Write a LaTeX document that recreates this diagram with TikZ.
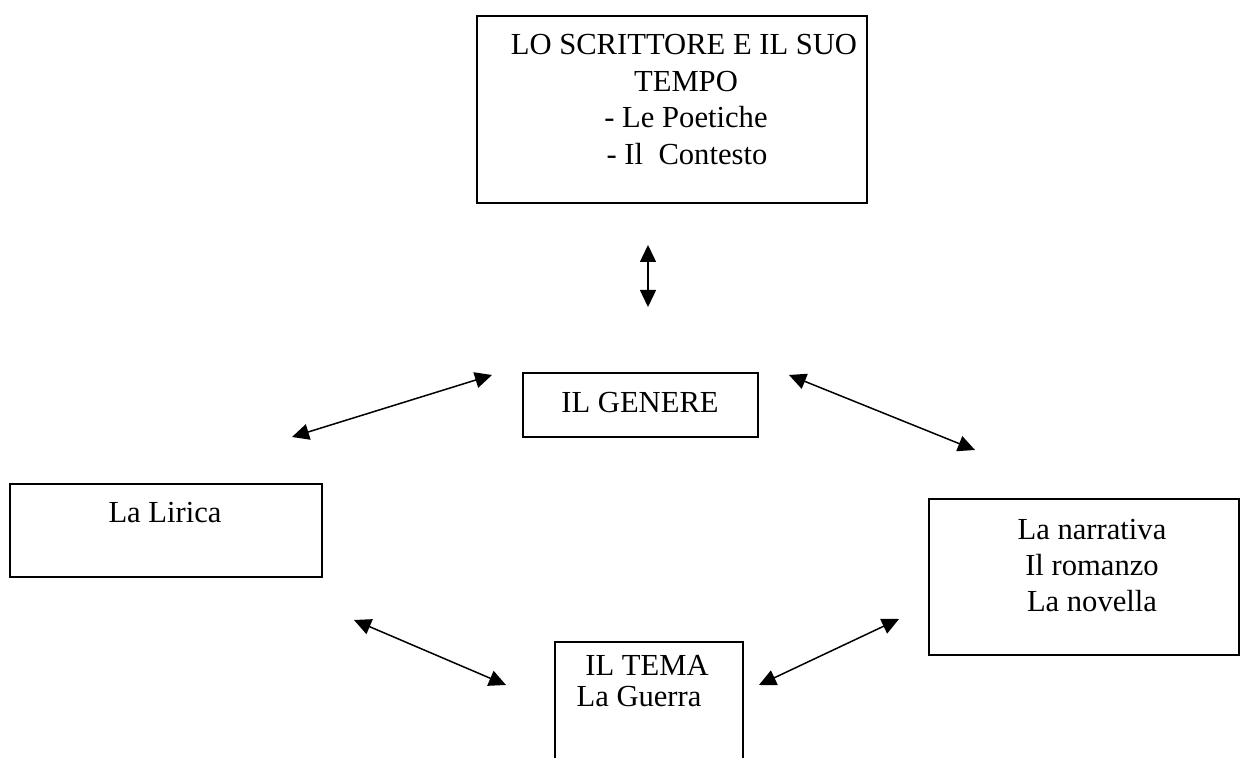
\documentclass[tikz,border=0pt]{standalone}
\usepackage{fontspec}
\setmainfont{Liberation Serif}
\usetikzlibrary{arrows.meta}

\tikzset{
  box/.style={draw, line width=0.65pt},
  txt/.style={anchor=base, inner sep=0pt, font=\fontsize{15.3pt}{18.4pt}\selectfont},
  link/.style={{Triangle[length=8.5pt,width=8pt]}-{Triangle[length=8.5pt,width=8pt]}, line width=0.75pt}
}

\begin{document}
\begin{tikzpicture}[x=0.5pt,y=-0.5pt]
\useasboundingbox (0,0) rectangle (1244,758);

% scrittore
\draw[box] (477,16) rectangle (867,203);
\node[txt] (scr1) at (684,55) {LO SCRITTORE E IL SUO};
\node[txt] (scr2) at (686,92) {TEMPO};
\node[txt] (scr3) at (686,128) {- Le Poetiche};
\node[txt] (scr4) at (687,165) {- Il\ \ Contesto};

% genere
\draw[box] (523,373) rectangle (758,437);
\node[txt] (gen) at (640,413) {IL GENERE};

% lirica
\draw[box] (10,484) rectangle (322,577);
\node[txt] (lir) at (165,523) {La Lirica};

% narrativa
\draw[box] (929,499) rectangle (1239,655);
\node[txt] (nar1) at (1092,540) {La narrativa};
\node[txt] (nar2) at (1092,576) {Il romanzo};
\node[txt] (nar3) at (1092,612) {La novella};

% tema
\draw[box] (555,760)--(555,642)--(743,642)--(743,760);
\node[txt] (tem1) at (647,676) {IL TEMA};
\node[txt] (tem2) at (639,707) {La Guerra};

% punti delle frecce
\coordinate (a1) at (648,245);
\coordinate (a2) at (648,307);
\coordinate (b1) at (292,437);
\coordinate (b2) at (492,375);
\coordinate (c1) at (789,375);
\coordinate (c2) at (975,450);
\coordinate (d1) at (354,620);
\coordinate (d2) at (506,685);
\coordinate (e1) at (759,685);
\coordinate (e2) at (899,619);

% frecce
\draw[link] (a1)--(a2);
\draw[link] (b1)--(b2);
\draw[link] (c1)--(c2);
\draw[link] (d1)--(d2);
\draw[link] (e1)--(e2);

\end{tikzpicture}
\end{document}
